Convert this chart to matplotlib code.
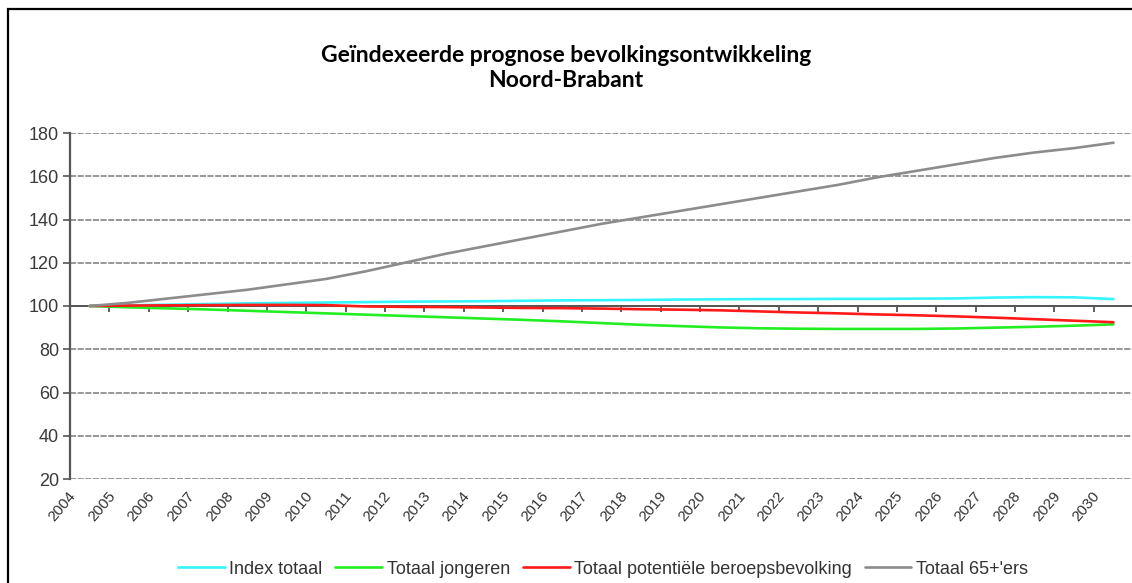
import numpy as np
import matplotlib.pyplot as plt
import matplotlib.transforms as mtransforms
from matplotlib.patches import Rectangle

years = list(range(2004, 2031))
index_totaal = [100, 100.3, 100.6, 100.9, 101.2, 101.4, 101.6, 101.8, 102.0, 102.1,
                102.2, 102.4, 102.6, 102.7, 102.8, 103.0, 103.1, 103.2, 103.2, 103.3,
                103.3, 103.4, 103.5, 103.9, 104.1, 104.0, 103.2]
totaal_jongeren = [100, 99.4, 98.9, 98.4, 97.8, 97.2, 96.6, 96.0, 95.4, 94.8,
                   94.2, 93.6, 92.9, 92.1, 91.3, 90.7, 90.1, 89.7, 89.5, 89.4,
                   89.4, 89.4, 89.6, 90.0, 90.4, 90.9, 91.5]
beroepsbevolking = [100, 100.2, 100.3, 100.4, 100.5, 100.5, 100.4, 99.8, 99.6, 99.5,
                    99.3, 99.1, 99.0, 98.8, 98.5, 98.3, 98.0, 97.5, 97.0, 96.6,
                    96.1, 95.7, 95.2, 94.6, 93.9, 93.2, 92.5]
totaal_65plus = [100, 101.5, 103.5, 105.5, 107.5, 110, 112.5, 116, 120, 124,
                 127.5, 131, 134.5, 138, 141, 144, 147, 150, 153, 156,
                 159.5, 162.5, 165.5, 168.5, 171, 173, 175.5]
series = [
    ('Index totaal', index_totaal, '#33F5FF'),
    ('Totaal jongeren', totaal_jongeren, '#22EE22'),
    ('Totaal potentiële beroepsbevolking', beroepsbevolking, '#FF1A1A'),
    ("Totaal 65+'ers", totaal_65plus, '#8C8C8C'),
]

plt.rcParams['font.family'] = ['Liberation Sans', 'DejaVu Sans']

W, H = 1132, 583
fig = plt.figure(figsize=(W / 100, H / 100), dpi=100)
ax = fig.add_axes([70 / W, 1 - 479 / H, 1 - 70 / W, (479 - 133) / H])

# category positions: points sit in the middle of each category
pos = np.arange(len(years)) + 0.5
handles = []
for name, vals, col in series:
    h, = ax.plot(pos, vals, color=col, lw=1.9, label=name, zorder=3,
                 solid_capstyle='round')
    handles.append(h)

ax.set_ylim(20, 180)
ax.set_xlim(0, len(years) - 0.03)
ax.set_yticks(range(20, 181, 20))
ax.yaxis.grid(True, color='#7a7a7a', lw=1.1, linestyle=(0, (4, 1)))
ax.set_axisbelow(True)

for s in ['top', 'right']:
    ax.spines[s].set_visible(False)
ax.spines['left'].set_color('#555555')
ax.spines['left'].set_linewidth(1.6)
ax.spines['bottom'].set_position(('data', 100))
ax.spines['bottom'].set_color('#555555')
ax.spines['bottom'].set_linewidth(1.4)
ax.spines['bottom'].set_zorder(2)

ax.set_xticks(np.arange(len(years)))
ax.tick_params(axis='x', direction='out', length=4, width=1.2, colors='#444444',
               labelbottom=False)
ax.tick_params(axis='y', direction='out', length=5, width=1.2, colors='#555555',
               labelsize=13, labelcolor='#3a3a3a', pad=3)

trans = mtransforms.blended_transform_factory(ax.transData, ax.transAxes)
for i, yr in enumerate(years):
    ax.text(i - 0.05, -0.028, str(yr), transform=trans, rotation=50,
            rotation_mode='anchor', ha='right', va='top', fontsize=11,
            color='#333333')

fig.text(0.5, 1 - 68 / H, 'Geïndexeerde prognose bevolkingsontwikkeling\nNoord-Brabant',
         ha='center', va='center', fontsize=16.5, fontweight='bold',
         family='Lato', linespacing=1.28)

fig.legend(handles=handles, loc='center', bbox_to_anchor=(603 / W, 1 - 569 / H),
           ncol=4, frameon=False, fontsize=13, handlelength=2.6,
           handletextpad=0.25, columnspacing=0.7, labelcolor='#333333')

fig.patches.append(Rectangle((7.5 / W, -0.1), 1.2, 1 - 9 / H + 0.1,
                             transform=fig.transFigure, fill=False,
                             edgecolor='black', lw=1.6))

plt.savefig('out.png', dpi=100)
